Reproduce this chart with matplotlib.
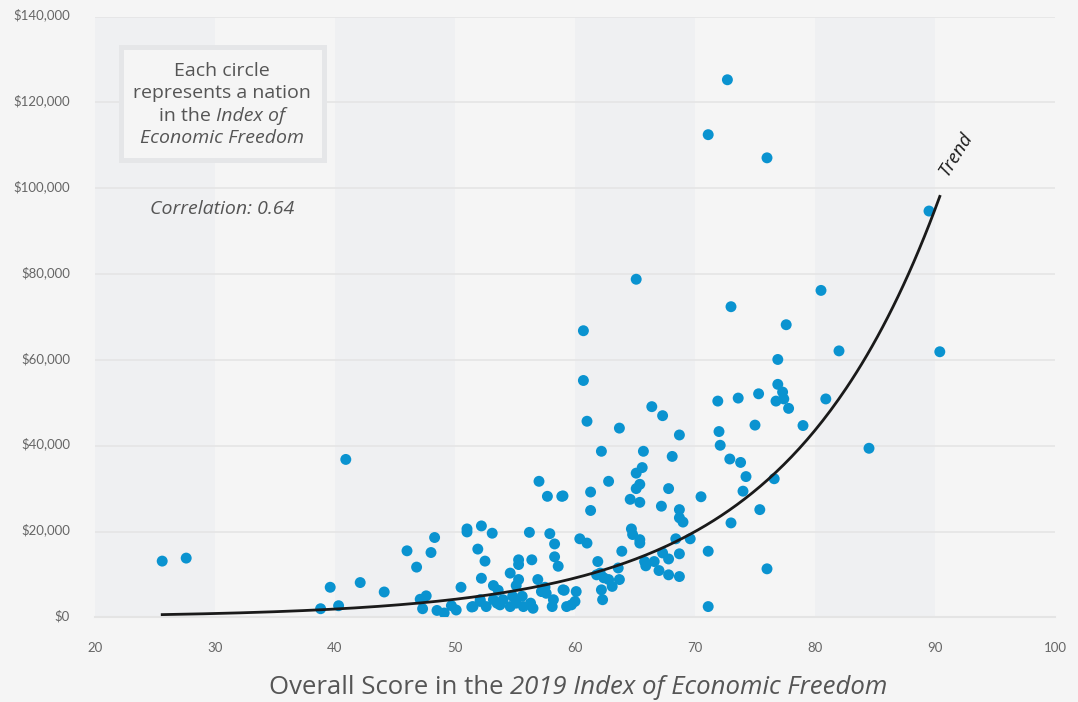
import numpy as np
import matplotlib
matplotlib.use('Agg')
import matplotlib.pyplot as plt
import matplotlib.transforms as mtransforms
from matplotlib.patches import Rectangle

# Scores in the 2019 Index of Economic Freedom and GDP per capita (thousands of $)
score = [25.6, 27.6, 40.9, 72.7, 71.1, 76.0, 89.5, 65.1, 60.7, 90.4, 73.0, 80.5, 77.6, 82.0, 76.9, 84.5,
         60.7, 61.0, 63.7, 66.4, 67.3, 68.7, 71.9, 72.0, 72.1, 62.2, 65.7, 68.1, 65.6, 65.1, 62.8, 65.4,
         65.1, 67.8, 61.3, 59.0, 64.6, 65.4, 70.5, 67.2, 68.7, 61.3, 68.7, 69.0,
         73.6, 75.3, 76.9, 77.3, 76.75, 77.4, 77.8, 80.9, 79.0, 75.0, 72.9, 73.8, 74.25, 76.6, 74.0, 75.4,
         73.0, 76.0, 57.0, 57.7, 58.9,
         64.7, 64.8, 65.4, 65.4, 63.9, 61.9, 61.8, 62.1, 62.4, 62.8, 63.1, 63.7, 63.6, 62.2, 62.3, 60.1,
         60.0, 59.3, 59.7, 59.0, 65.8, 65.9, 66.6, 67.0, 67.3, 67.8, 67.8, 68.7, 68.7, 68.4, 69.6, 71.1,
         71.1, 60.4, 61.0,
         51.0, 51.0, 52.2, 53.1, 51.9, 52.5, 52.2, 50.5, 53.2, 53.6, 54.6, 55.3, 55.3, 55.3, 55.1, 56.4,
         56.2, 57.9, 58.3, 58.3, 58.6, 56.9, 57.5, 57.6, 59.1, 54.0, 54.8, 55.6, 56.3, 56.5, 58.1, 58.2,
         57.2, 51.5, 52.1, 52.6, 53.2, 53.75, 54.6, 55.1, 55.7, 51.4, 52.1, 53.5,
         38.8, 39.6, 40.3, 42.1, 44.1, 46.0, 48.3, 48.0, 46.8, 47.1, 47.6, 47.3, 48.5, 49.1, 49.7, 50.1]
gdp_k = [13.1, 13.8, 36.8, 125.3, 112.5, 107.1, 94.7, 78.8, 66.8, 61.9, 72.4, 76.2, 68.2, 62.1, 60.1, 39.4,
         55.2, 45.7, 44.1, 49.1, 47.0, 42.5, 50.4, 43.3, 40.1, 38.7, 38.7, 37.5, 34.9, 33.6, 31.7, 31.0,
         30.0, 30.0, 29.2, 28.3, 27.5, 26.8, 28.1, 25.9, 25.1, 24.9, 23.2, 22.2,
         51.1, 52.1, 54.3, 52.5, 50.4, 50.9, 48.7, 50.9, 44.7, 44.8, 36.9, 36.1, 32.8, 32.3, 29.4, 25.1,
         22.0, 11.3, 31.7, 28.2, 28.2,
         20.6, 19.3, 18.1, 17.3, 15.4, 13.0, 9.9, 10.3, 9.2, 8.8, 7.2, 8.8, 11.5, 6.4, 4.1, 6.0,
         3.7, 2.5, 2.9, 6.4, 13.0, 12.0, 13.0, 10.9, 15.0, 13.6, 9.9, 9.5, 14.8, 18.3, 18.3, 15.4,
         2.5, 18.3, 17.3,
         20.6, 19.9, 21.3, 19.6, 15.9, 13.1, 9.1, 7.0, 7.4, 6.3, 10.3, 13.4, 12.3, 8.8, 7.4, 13.4,
         19.8, 19.5, 17.1, 14.1, 11.9, 8.8, 7.0, 5.6, 6.3, 4.1, 4.9, 4.9, 3.3, 2.1, 2.5, 4.1,
         6.0, 2.5, 4.1, 2.5, 4.1, 2.9, 2.5, 3.3, 2.5, 2.4, 3.7, 3.3,
         2.0, 7.0, 2.7, 8.1, 5.9, 15.5, 18.6, 15.1, 11.7, 4.2, 5.0, 2.0, 1.6, 1.0, 2.7, 1.7]

# exponential trend y = a * exp(b * score)
TREND_A = 85
TREND_B = 0.078

x_ticks = [20, 30, 40, 50, 60, 70, 80, 90, 100]
y_ticks = [0, 20000, 40000, 60000, 80000, 100000, 120000, 140000]
bands = [20, 40, 60, 80]

box_lines = [[("Each circle", "normal")],
             [("represents a nation", "normal")],
             [("in the ", "normal"), ("Index of", "italic")],
             [("Economic Freedom", "italic")]]
xlabel_parts = [("Overall Score in the ", "normal"), ("2019 Index of Economic Freedom", "italic")]

bg = "#f5f5f5"
band_color = "#eff0f2"
dot_color = "#0a93d0"
text_color = "#555555"
label_font = ['Open Sans', 'DejaVu Sans']
W, H = 1078, 702

plt.rcParams['font.family'] = ['Lato', 'DejaVu Sans']

fig = plt.figure(figsize=(W / 100, H / 100), dpi=100, facecolor=bg)
ax = fig.add_axes([95 / W, 1 - 617.3 / H, 960 / W, 600.6 / H])
ax.set_facecolor(bg)

# shaded vertical bands
for b in bands:
    ax.axvspan(b, b + 10, color=band_color, zorder=0, lw=0)

ax.set_xlim(20, 100)
ax.set_ylim(0, 140000)
ax.set_xticks(x_ticks)
ax.set_yticks(y_ticks)
ax.set_yticklabels(["${:,.0f}".format(v) for v in y_ticks])
ax.tick_params(axis='both', length=0, labelsize=9.5, labelcolor="#666666")
ax.tick_params(axis='x', pad=18)
ax.tick_params(axis='y', pad=18)
# y labels sit a little above their gridlines
up = mtransforms.ScaledTranslation(0, 2.5 / 100, fig.dpi_scale_trans)
for lab in ax.get_yticklabels():
    lab.set_transform(lab.get_transform() + up)
ax.yaxis.grid(True, color="#e6e6e6", lw=1.3, zorder=1)
for s in ['top', 'right', 'left']:
    ax.spines[s].set_visible(False)
ax.spines['bottom'].set_color("#e4e4e4")
ax.spines['bottom'].set_linewidth(1.5)

# scatter of nations
gdp = np.array(gdp_k) * 1000
ax.scatter(score, gdp, s=62, color=dot_color, edgecolors='none', zorder=3)

# trend line
tx = np.linspace(min(score), max(score), 300)
ax.plot(tx, TREND_A * np.exp(TREND_B * tx), color="#1a1a1a", lw=2, zorder=4)
ax.text(91.75, 108000, "Trend", rotation=58, style='italic', fontsize=13.5,
        color="#1a1a1a", ha='center', va='center', family=label_font)

# info box
ax.add_patch(Rectangle((120.5 / W, 1 - 159.5 / H), 203 / W, 112 / H, transform=fig.transFigure,
                       facecolor=bg, edgecolor="#e5e6e8", lw=3.6, zorder=5))


def mixed_text(parts, cx, cy, size):
    # put normal and italic pieces side by side, centred on cx (pixels)
    renderer = fig.canvas.get_renderer()
    texts = []
    for s, style in parts:
        t = fig.text(0, 1 - cy / H, s, fontsize=size, style=style, color=text_color,
                     ha='left', va='center', zorder=6, family=label_font)
        texts.append(t)
    widths = [t.get_window_extent(renderer).width for t in texts]
    x = cx - sum(widths) / 2
    for t, w in zip(texts, widths):
        t.set_x(x / W)
        x += w


fig.canvas.draw()
for i, line in enumerate(box_lines):
    mixed_text(line, 222, 71 + i * 22.3, 14)

mixed_text([("Correlation: 0.64", "italic")], 222, 209, 14)

mixed_text(xlabel_parts, 578, 688, 18.5)

fig.savefig("out.png", dpi=100, facecolor=bg)
